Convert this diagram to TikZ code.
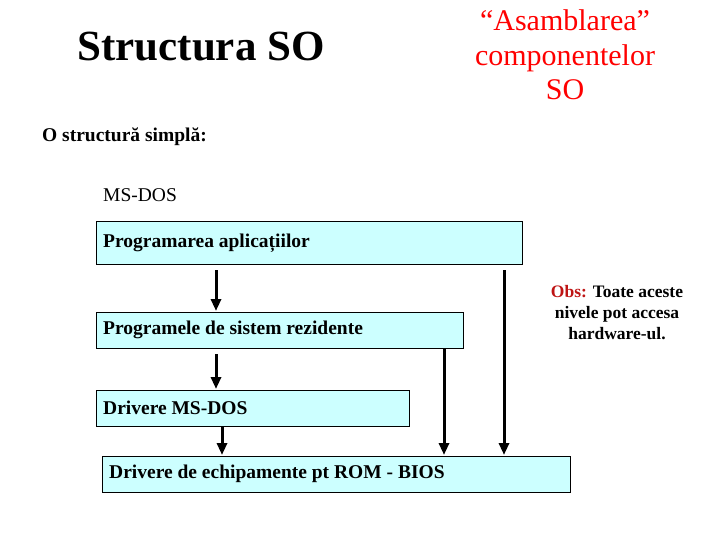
\documentclass[tikz,border=0pt]{standalone}
\usepackage{fontspec}
\setmainfont{Liberation Serif}
\usetikzlibrary{arrows.meta}
\definecolor{boxfill}{RGB}{204,255,255}
\definecolor{obsred}{RGB}{190,20,20}
\begin{document}
\begin{tikzpicture}[x=1pt,y=-1pt,
  layer/.style={draw=black,fill=boxfill,line width=1pt,anchor=north west,inner sep=0pt},
  lbl/.style={anchor=west,inner sep=0pt,font=\fontsize{19.5}{22}\selectfont\bfseries},
  arr/.style={line width=3pt,-{Triangle[length=12pt,width=10pt]}}]
\useasboundingbox (0,0) rectangle (720,540);
\node[font=\fontsize{43}{48}\selectfont\bfseries] (t) at (201,47) {Structura SO};
\node[font=\fontsize{30}{34.5}\selectfont,text=red,align=center] (t2) at (565,55) {“Asamblarea”\\componentelor\\SO};
\node[anchor=west,inner sep=0pt,font=\fontsize{19.5}{22}\selectfont\bfseries] (s) at (42,137) {O structură simplă:};
\node[anchor=west,inner sep=0pt,font=\fontsize{19.5}{22}\selectfont] (m) at (103,195) {MS-DOS};
\path[layer] (96,222) rectangle (522,264);
\node[lbl] (l1) at (103,243) {Programarea aplicațiilor};
\path[layer] (96,312) rectangle (463,348);
\node[lbl] (l2) at (103,330) {Programele de sistem rezidente};
\path[layer] (96,390) rectangle (409,426);
\node[lbl] (l3) at (103,408) {Drivere MS-DOS};
\path[layer] (102,456) rectangle (570,492);
\node[lbl] (l4) at (109,474) {Drivere de echipamente pt ROM - BIOS};
\coordinate (a1s) at (216,270); \coordinate (a1e) at (216,311);
\coordinate (a2s) at (216,354); \coordinate (a2e) at (216,389);
\coordinate (a3s) at (222,427); \coordinate (a3e) at (222,455);
\coordinate (a4s) at (444,348); \coordinate (a4e) at (444,455);
\coordinate (a5s) at (504,270); \coordinate (a5e) at (504,455);
\draw[arr] (a1s) -- (a1e);
\draw[arr] (a2s) -- (a2e);
\draw[arr] (a3s) -- (a3e);
\draw[arr] (a4s) -- (a4e);
\draw[arr] (a5s) -- (a5e);
\node[font=\fontsize{17.5}{21}\selectfont\bfseries,align=center] (obs) at (617,313) {\textcolor{obsred}{Obs:} Toate aceste\\nivele pot accesa\\hardware-ul.};
\end{tikzpicture}
\end{document}
